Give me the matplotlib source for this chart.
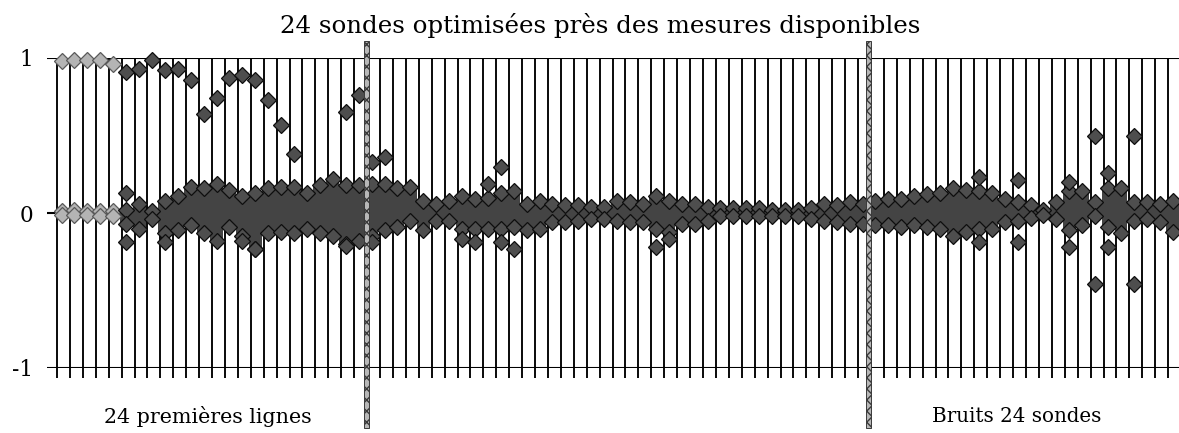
import numpy as np
import matplotlib
matplotlib.use("Agg")
import matplotlib.pyplot as plt
from matplotlib.patches import Rectangle

# ---------------- data ----------------
n_cat = 87
categories = list(range(n_cat))

# upper curve of the "24 premières lignes" part
top_idx = [0, 1, 2, 3, 4, 5, 6, 7, 8, 9, 10, 11, 12, 13, 14, 15, 16, 17, 18, 22, 23, 24, 25]
top_val = [0.98, 0.99, 0.99, 0.99, 0.96, 0.91, 0.93, 0.99, 0.92, 0.93, 0.86, 0.64, 0.74,
           0.87, 0.89, 0.86, 0.73, 0.57, 0.38, 0.65, 0.76, 0.33, 0.36]

# upper / lower envelope of the dense cloud of points around 0
band_hi = [0.01, 0.02, 0.01, 0.01, 0.01, 0.02, 0.06, 0.01, 0.08, 0.11,
           0.17, 0.16, 0.19, 0.15, 0.11, 0.13, 0.16, 0.17, 0.17, 0.13,
           0.18, 0.22, 0.18, 0.18, 0.19, 0.19, 0.16, 0.17, 0.08, 0.06,
           0.08, 0.11, 0.09, 0.10, 0.13, 0.14, 0.06, 0.08, 0.06, 0.05,
           0.05, 0.04, 0.04, 0.08, 0.07, 0.06, 0.11, 0.08, 0.06, 0.06,
           0.04, 0.03, 0.03, 0.03, 0.03, 0.02, 0.02, 0.02, 0.03, 0.06,
           0.05, 0.07, 0.06, 0.08, 0.09, 0.09, 0.11, 0.12, 0.13, 0.16,
           0.15, 0.14, 0.13, 0.09, 0.07, 0.05, 0.02, 0.07, 0.14, 0.14,
           0.07, 0.16, 0.16, 0.07, 0.07, 0.06, 0.08]
band_lo = [-0.01, -0.01, -0.01, -0.02, -0.02, -0.07, -0.10, -0.04, -0.13, -0.11,
           -0.08, -0.13, -0.18, -0.09, -0.15, -0.23, -0.13, -0.12, -0.13, -0.10,
           -0.13, -0.15, -0.20, -0.18, -0.15, -0.11, -0.09, -0.05, -0.11, -0.05,
           -0.05, -0.10, -0.10, -0.10, -0.10, -0.09, -0.11, -0.10, -0.06, -0.06,
           -0.05, -0.04, -0.04, -0.05, -0.06, -0.06, -0.10, -0.12, -0.07, -0.07,
           -0.05, -0.02, -0.02, -0.02, -0.02, -0.02, -0.02, -0.02, -0.04, -0.05,
           -0.06, -0.07, -0.07, -0.08, -0.08, -0.09, -0.08, -0.09, -0.10, -0.15,
           -0.12, -0.10, -0.10, -0.06, -0.05, -0.03, -0.01, -0.04, -0.11, -0.08,
           -0.02, -0.09, -0.13, -0.05, -0.04, -0.06, -0.12]

# isolated points outside the cloud
out_pos_idx = [5, 33, 34, 71, 74, 78, 80, 81, 83]
out_pos_val = [0.13, 0.19, 0.30, 0.23, 0.21, 0.20, 0.50, 0.26, 0.50]
out_neg_idx = [5, 8, 14, 15, 22, 24, 31, 32, 34, 35, 46, 47, 71, 74, 78, 80, 81, 83]
out_neg_val = [-0.19, -0.19, -0.18, -0.23, -0.21, -0.19, -0.17, -0.19, -0.19, -0.23,
               -0.22, -0.17, -0.19, -0.19, -0.22, -0.46, -0.22, -0.46]

y_ticks = [-1, 0, 1]
y_labels = ["-1", "0", "1"]
separators = [23.95, 62.8]

title = "24 sondes optimisées près des mesures disponibles"
label_left = "24 premières lignes"
label_right = "Bruits 24 sondes"

# ---------------- figure ----------------
W, H = 1179, 433
fig = plt.figure(figsize=(W / 100, H / 100), dpi=100)
ax = fig.add_axes([47 / W, (H - 368) / H, (W - 47) / W, 310 / H])
x0_px, step_px = 57.0, 12.92
ax.set_xlim((47 - x0_px) / step_px, (W - x0_px) / step_px)
ax.set_ylim(-1, 1)
for s in ax.spines.values():
    s.set_visible(False)

serif = ["DejaVu Serif"]

px_per_unit = 155.0
ax.vlines(categories, -1 - 10 / px_per_unit, 1, colors="black", lw=1.35, zorder=1, clip_on=False)
for yv in (-1, 0, 1):
    ax.axhline(yv, color="black", lw=1.5, zorder=1)

off = 0.35
dark_face, dark_edge = "#4e4e4e", "#0e0e0e"
light_face, light_edge = "#b4b4b4", "#5a5a5a"
ms = 7.9

xs = np.array(categories) + off
hi = np.array(band_hi)
lo = np.array(band_lo)
light = np.array(categories) < 5
bar_cols = np.where(light, "#b4b4b4", "#444444")
ax.bar(xs, hi - lo, bottom=lo, width=1.0, color=bar_cols, linewidth=0, zorder=2)

for mask, fc, ec in ((light, light_face, light_edge), (~light, dark_face, dark_edge)):
    for arr in (hi, lo):
        ax.plot(xs[mask], arr[mask], linestyle="none", marker="D", ms=ms,
                mfc=fc, mec=ec, mew=0.9, zorder=3)

tx = np.array(top_idx) + off
tv = np.array(top_val)
tl = np.array(top_idx) < 5
ax.plot(tx[tl], tv[tl], linestyle="none", marker="D", ms=ms, mfc=light_face, mec=light_edge,
        mew=0.9, zorder=3, clip_on=False)
ax.plot(tx[~tl], tv[~tl], linestyle="none", marker="D", ms=ms, mfc=dark_face, mec=dark_edge,
        mew=0.9, zorder=3, clip_on=False)

ax.plot(np.array(out_pos_idx) + off, out_pos_val, linestyle="none", marker="D", ms=ms,
        mfc=dark_face, mec=dark_edge, mew=0.9, zorder=3)
ax.plot(np.array(out_neg_idx) + off, out_neg_val, linestyle="none", marker="D", ms=ms,
        mfc=dark_face, mec=dark_edge, mew=0.9, zorder=3)

# hatched separators
plt.rcParams["hatch.linewidth"] = 1.0
for sx in separators:
    w = 4.8 / step_px
    y_top = 1 + 17 / px_per_unit
    y_bot = -1 - 60 / px_per_unit
    ax.add_patch(Rectangle((sx - w / 2, y_bot), w, y_top - y_bot, facecolor="#b8b8b8",
                           edgecolor="#3a3a3a", hatch="xxx", lw=0.7, zorder=4, clip_on=False))

ax.set_xticks([])
ax.set_yticks(y_ticks)
ax.set_yticklabels(y_labels, fontfamily=serif, fontsize=15.5)
ax.tick_params(axis="y", length=0, pad=10)

t_title = fig.text(600 / W, 1 - 33 / H, title, ha="center", va="baseline", fontsize=18, family=serif)
t_left = fig.text(207.5 / W, 1 - 423 / H, label_left, ha="center", va="baseline", fontsize=15, family=serif)
t_right = fig.text(1017 / W, 1 - 422 / H, label_right, ha="center", va="baseline", fontsize=15, family=serif)

# fit text sizes to the widths measured on the reference
renderer = fig.canvas.get_renderer()
for t, target in ((t_title, 639), (t_left, 209), (t_right, 170)):
    wpx = t.get_window_extent(renderer).width
    t.set_fontsize(t.get_fontsize() * target / wpx)

fig.savefig("out.png", dpi=100)
